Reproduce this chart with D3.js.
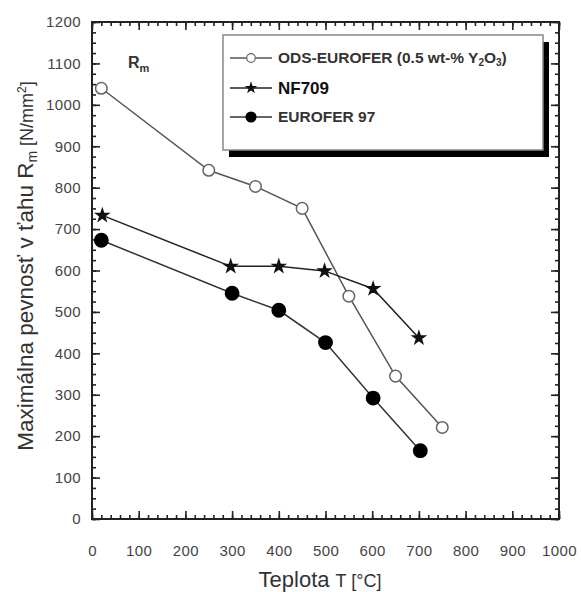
<!DOCTYPE html>
<html>
<head>
<meta charset="utf-8">
<script src="https://cdn.jsdelivr.net/npm/d3@7"></script>
<style>
  body { margin: 0; background: #fff; }
  text { font-family: "Liberation Sans", Arial, sans-serif; }
</style>
</head>
<body>
<svg id="chart" width="581" height="592"></svg>
<script>
// data
var temps_ods = [20, 250, 350, 450, 550, 650, 750];
var rm_ods    = [1040, 842, 803, 750, 538, 345, 221];
var temps_nf  = [22, 297, 400, 498, 602, 700];
var rm_nf     = [733, 610, 610, 599, 556, 437];
var temps_eu  = [20, 300, 400, 500, 602, 703];
var rm_eu     = [673, 545, 504, 426, 292, 165];
var xTicks = [0, 100, 200, 300, 400, 500, 600, 700, 800, 900, 1000];
var yTicks = [0, 100, 200, 300, 400, 500, 600, 700, 800, 900, 1000, 1100, 1200];

var margin = {left: 92, top: 22, right: 22, bottom: 73}
  , width = 581 - margin.left - margin.right
  , height = 592 - margin.top - margin.bottom;

var svg = d3.select("#chart");
var g = svg.append("g").attr("transform", "translate(" + margin.left + "," + margin.top + ")");

var x = d3.scaleLinear().domain([0, 1000]).range([0, width]);
var y = d3.scaleLinear().domain([0, 1200]).range([height, 0]);

var minorX = d3.range(0, 1001, 20)
  , minorY = d3.range(0, 1201, 25);

function styleAxis(a){
  a.select(".domain").remove();
  a.selectAll("line").attr("stroke", "#222").attr("stroke-width", 1.6);
  a.selectAll("text").attr("fill", "#444").style("font-size", "15px").style("letter-spacing", "0.4px");
}

// minor ticks, all four sides, pointing in
g.append("g").attr("class", "ax").attr("transform", "translate(0," + height + ")")
  .call(d3.axisBottom(x).tickValues(minorX).tickSize(-4).tickFormat("")).call(styleAxis);
g.append("g").attr("class", "ax")
  .call(d3.axisTop(x).tickValues(minorX).tickSize(-4).tickFormat("")).call(styleAxis);
g.append("g").attr("class", "ax")
  .call(d3.axisLeft(y).tickValues(minorY).tickSize(-4).tickFormat("")).call(styleAxis);
g.append("g").attr("class", "ax").attr("transform", "translate(" + width + ",0)")
  .call(d3.axisRight(y).tickValues(minorY).tickSize(-4).tickFormat("")).call(styleAxis);

// major ticks + labels
g.append("g").attr("class", "ax").attr("transform", "translate(0," + height + ")")
  .call(d3.axisBottom(x).tickValues(xTicks).tickSize(-8).tickPadding(26).tickFormat(d3.format("d"))).call(styleAxis);
g.append("g").attr("class", "ax")
  .call(d3.axisTop(x).tickValues(xTicks).tickSize(-8).tickFormat("")).call(styleAxis);
g.append("g").attr("class", "ax")
  .call(d3.axisLeft(y).tickValues(yTicks).tickSize(-8).tickPadding(11).tickFormat(d3.format("d"))).call(styleAxis);
g.append("g").attr("class", "ax").attr("transform", "translate(" + width + ",0)")
  .call(d3.axisRight(y).tickValues(yTicks).tickSize(-8).tickFormat("")).call(styleAxis);

// frame
g.append("rect").attr("width", width).attr("height", height)
  .attr("fill", "none").attr("stroke", "#222").attr("stroke-width", 2);

var line = d3.line().x(d => x(d[0])).y(d => y(d[1]));

var series = [
  {name: "ODS", t: temps_ods, v: rm_ods, stroke: "#555", symbol: d3.symbolCircle, size: 105, fill: "#fff", mstroke: "#666"},
  {name: "NF709", t: temps_nf, v: rm_nf, stroke: "#222", symbol: d3.symbolStar, size: 45, fill: "#111", mstroke: "#111"},
  {name: "EU97", t: temps_eu, v: rm_eu, stroke: "#333", symbol: d3.symbolCircle, size: 140, fill: "#000", mstroke: "#000"}
];

series.forEach(function(s){
  var pts = s.t.map((t, i) => [t, s.v[i]]);
  g.append("path").datum(pts).attr("d", line)
    .attr("fill", "none").attr("stroke", s.stroke).attr("stroke-width", 1.5);
  g.selectAll(".m-" + s.name).data(pts).enter().append("path")
    .attr("class", "m-" + s.name)
    .attr("transform", d => "translate(" + x(d[0]) + "," + y(d[1]) + ")")
    .attr("d", d3.symbol().type(s.symbol).size(s.size))
    .attr("fill", s.fill).attr("stroke", s.mstroke).attr("stroke-width", 1.5);
});

// R_m note
var rm = g.append("text").attr("x", 36).attr("y", 46).attr("fill", "#333")
  .style("font-size", "16px").style("font-weight", "bold");
rm.append("tspan").text("R");
rm.append("tspan").attr("dy", 4).style("font-size", "11px").text("m");

// legend box with shadow
var lg = svg.append("g").attr("transform", "translate(223,35)");
lg.append("rect").attr("x", 6).attr("y", 7).attr("width", 320).attr("height", 115).attr("fill", "#000");
lg.append("rect").attr("width", 320).attr("height", 115).attr("fill", "#fff")
  .attr("stroke", "#888").attr("stroke-width", 1.5);

var legendY = [23, 53, 82];
series.forEach(function(s, i){
  lg.append("line").attr("x1", 7).attr("x2", 49).attr("y1", legendY[i]).attr("y2", legendY[i])
    .attr("stroke", s.stroke).attr("stroke-width", 1.5);
  lg.append("path").attr("transform", "translate(28," + legendY[i] + ")")
    .attr("d", d3.symbol().type(s.symbol).size(s.size * 0.55))
    .attr("fill", s.fill).attr("stroke", s.mstroke).attr("stroke-width", 1.2);
});
var t0 = lg.append("text").attr("x", 55).attr("y", legendY[0]).attr("dy", "0.35em").attr("fill", "#333")
  .style("font-size", "15.5px").style("font-weight", "bold");
t0.append("tspan").text("ODS-EUROFER (0.5 wt-% Y");
t0.append("tspan").attr("dy", 3).style("font-size", "10px").text("2");
t0.append("tspan").attr("dy", -3).text("O");
t0.append("tspan").attr("dy", 3).style("font-size", "10px").text("3");
t0.append("tspan").attr("dy", -3).text(")");
lg.append("text").attr("x", 55).attr("y", legendY[1]).attr("dy", "0.35em").attr("fill", "#111")
  .style("font-size", "17px").style("font-weight", "bold").text("NF709");
lg.append("text").attr("x", 55).attr("y", legendY[2]).attr("dy", "0.35em").attr("fill", "#333")
  .style("font-size", "15.5px").style("font-weight", "bold").text("EUROFER 97");

// axis titles
var xt = svg.append("text").attr("x", 320).attr("y", 587).attr("text-anchor", "middle").attr("fill", "#333")
  .style("font-size", "22px");
xt.append("tspan").text("Teplota ");
xt.append("tspan").style("font-size", "18px").text("T [°C]");

var yt = svg.append("text").attr("transform", "translate(33,266) rotate(-90)")
  .attr("text-anchor", "middle").attr("fill", "#333").style("font-size", "22.5px");
yt.append("tspan").text("Maximálna pevnosť v ťahu R");
yt.append("tspan").attr("dy", 4).style("font-size", "14px").text("m");
yt.append("tspan").attr("dy", -4).style("font-size", "18px").text(" [N/mm");
yt.append("tspan").attr("dy", -7).style("font-size", "12px").text("2");
yt.append("tspan").attr("dy", 7).style("font-size", "18px").text("]");
</script>
</body>
</html>
